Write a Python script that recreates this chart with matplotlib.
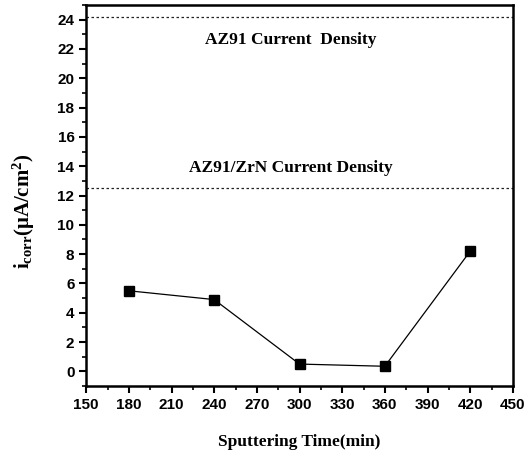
import matplotlib
matplotlib.use("Agg")
import matplotlib.pyplot as plt
from matplotlib.ticker import MultipleLocator

time_min = [180, 240, 300, 360, 420]
i_corr = [5.5, 4.9, 0.5, 0.35, 8.2]
az91_density = 24.2
az91_zrn_density = 12.5
label_az91 = "AZ91 Current  Density"
label_zrn = "AZ91/ZrN Current Density"

plt.rcParams['mathtext.fontset'] = 'custom'
plt.rcParams['mathtext.rm'] = 'Liberation Serif:bold'
plt.rcParams['mathtext.bf'] = 'Liberation Serif:bold'
plt.rcParams['mathtext.it'] = 'Liberation Serif:bold'

fig = plt.figure(figsize=(5.32, 4.51), dpi=100)
ax = fig.add_axes([0.162, 0.144, 0.802, 0.845])

ax.plot(time_min, i_corr, color='black', lw=0.9, marker='s', markersize=7.5,
        markerfacecolor='black', markeredgecolor='black')
ax.axhline(az91_density, color='#222222', lw=0.9, ls=(0, (2, 2)))
ax.axhline(az91_zrn_density, color='#222222', lw=0.9, ls=(0, (2, 2)))

ax.text(294, 22.6, label_az91, ha='center', va='center', family='Liberation Serif',
        fontweight='bold', fontsize=12.5)
ax.text(294, 13.9, label_zrn, ha='center', va='center', family='Liberation Serif',
        fontweight='bold', fontsize=12.5)

ax.set_xlim(150, 450)
ax.set_ylim(-1, 25)
ax.xaxis.set_major_locator(MultipleLocator(30))
ax.xaxis.set_minor_locator(MultipleLocator(15))
ax.yaxis.set_major_locator(MultipleLocator(2))
ax.yaxis.set_minor_locator(MultipleLocator(1))
ax.set_yticks(range(0, 25, 2))

for s in ax.spines.values():
    s.set_linewidth(1.8)
ax.tick_params(which='major', direction='out', length=5, width=1.5, labelsize=11)
ax.tick_params(which='minor', direction='out', length=3, width=1.2)
for lab in ax.get_xticklabels() + ax.get_yticklabels():
    lab.set_family('Liberation Sans')
    lab.set_fontweight('bold')

ax.set_xlabel('Sputtering Time(min)', family='Liberation Serif', fontweight='bold',
              fontsize=12.5)
ax.xaxis.set_label_coords(0.5, -0.125)
ax.set_ylabel(r'$\mathbf{i_{corr}(\mu A/cm^2)}$', fontsize=15)
ax.yaxis.set_label_coords(-0.115, 0.46)

fig.savefig('out.png', dpi=100)
